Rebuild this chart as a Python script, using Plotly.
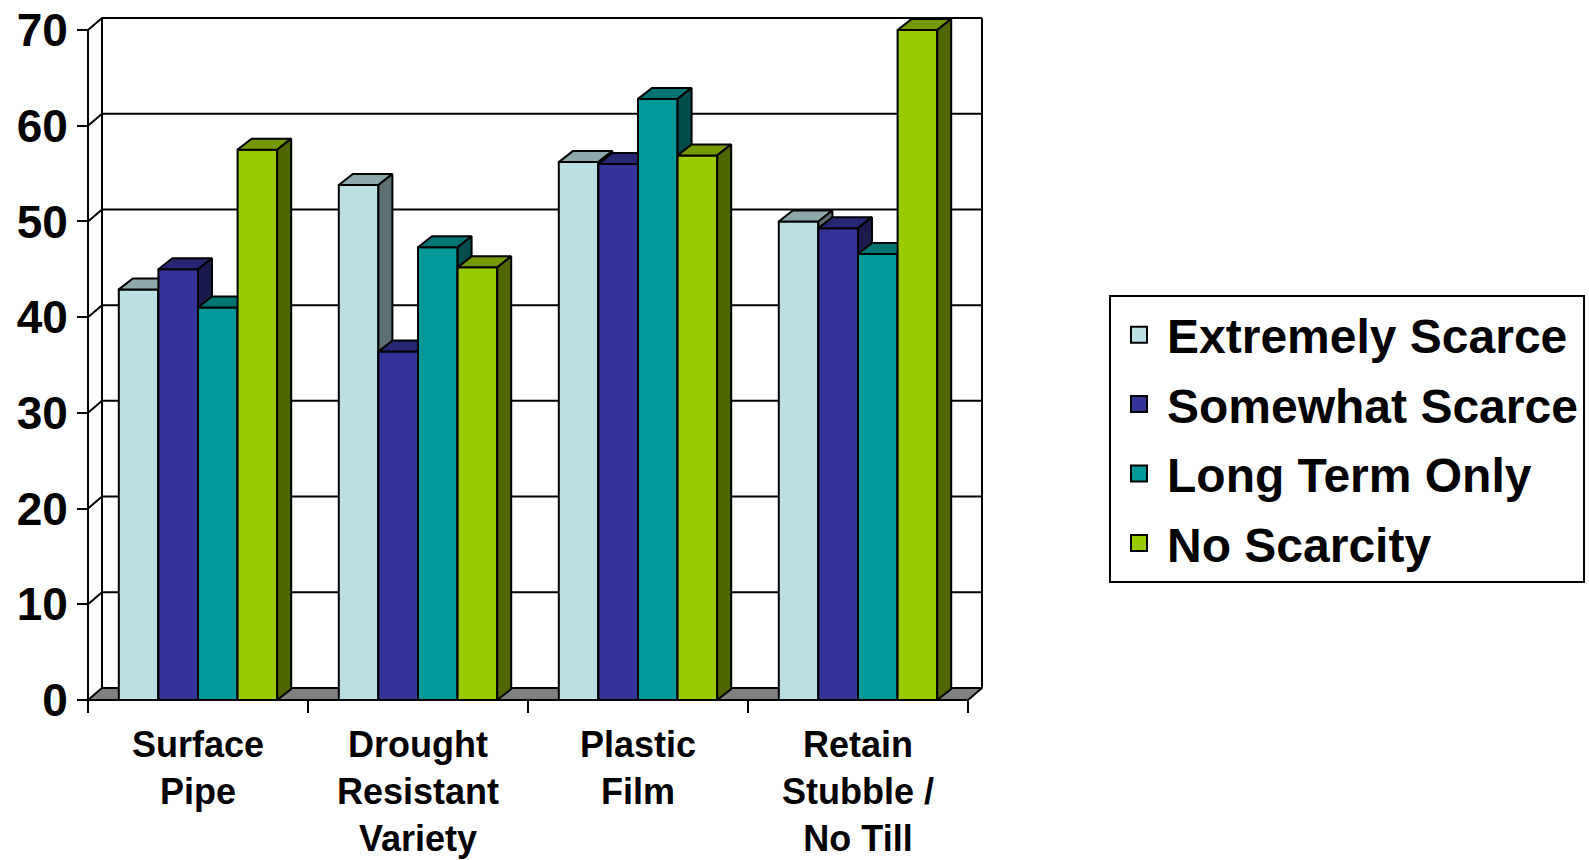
import plotly.graph_objects as go

# ---------------- data ----------------
categories = ["Surface<br>Pipe", "Drought<br>Resistant<br>Variety", "Plastic<br>Film",
              "Retain<br>Stubble /<br>No Till"]
series_names = ["Extremely Scarce", "Somewhat Scarce", "Long Term Only", "No Scarcity"]
extremely_scarce = [42.9, 53.8, 56.2, 50.0]
somewhat_scarce = [45.0, 36.4, 56.0, 49.3]
long_term_only = [41.0, 47.3, 62.8, 46.6]
no_scarcity = [57.5, 45.2, 56.9, 70.0]
y_tick_values = [0, 10, 20, 30, 40, 50, 60, 70]

series_values = [extremely_scarce, somewhat_scarce, long_term_only, no_scarcity]

# ---------------- styles ----------------
front_colors = ["#BBE0E3", "#333399", "#009999", "#99CC00"]
top_colors = ["#8CA8AA", "#262673", "#007373", "#739900"]
side_colors = ["#5E7072", "#1A1A4D", "#004D4D", "#4D6600"]
FONT = "Liberation Sans, Arial, sans-serif"

W, H = 1589, 860
# pixel geometry of the front plane
PX_LEFT, BAND_PX = 88, 220          # front left edge, px per category
PX_ZERO, PX_PER_UNIT = 700, 670 / 70  # y=0 position, px per value unit
WALL_DX_PX, WALL_DY_PX = 14, 12
BAR_DX_PX, BAR_DY_PX = 14, 11
PAD = 2

ncat = len(categories)
y_top = max(y_tick_values)
wall_dx = WALL_DX_PX / BAND_PX
wall_dy = WALL_DY_PX / PX_PER_UNIT
bar_dx = BAR_DX_PX / BAND_PX
bar_dy = BAR_DY_PX / PX_PER_UNIT

x_left = -0.5
x_right = ncat - 0.5
x_min = x_left - PAD / BAND_PX
x_max = x_right + wall_dx + PAD / BAND_PX
y_min = -PAD / PX_PER_UNIT
y_max = y_top + wall_dy + PAD / PX_PER_UNIT

plot_left = PX_LEFT - PAD
plot_w = (x_max - x_min) * BAND_PX
plot_bottom = PX_ZERO + PAD
plot_h = (y_max - y_min) * PX_PER_UNIT
margin_l = plot_left
margin_r = W - plot_left - plot_w
margin_b = H - plot_bottom
margin_t = H - margin_b - plot_h

fig = go.Figure()

# ---------------- walls & grid ----------------
gx, gy = [], []
for v in y_tick_values[1:]:
    gx += [x_left, x_left + wall_dx, x_right + wall_dx, None]
    gy += [v, v + wall_dy, v + wall_dy, None]
# back-left and back-right vertical edges
gx += [x_left + wall_dx, x_left + wall_dx, None, x_right + wall_dx, x_right + wall_dx, None]
gy += [wall_dy, y_top + wall_dy, None, wall_dy, y_top + wall_dy, None]
# front vertical axis line
gx += [x_left, x_left, None]
gy += [0, y_top, None]
fig.add_trace(go.Scatter(x=gx, y=gy, mode="lines", line=dict(color="black", width=2),
                         showlegend=False, hoverinfo="skip"))

# floor
fig.add_trace(go.Scatter(
    x=[x_left, x_right, x_right + wall_dx, x_left + wall_dx, x_left],
    y=[0, 0, wall_dy, wall_dy, 0],
    mode="lines", fill="toself", fillcolor="#808080",
    line=dict(color="black", width=2), showlegend=False, hoverinfo="skip"))

# ---------------- bars ----------------
nser = len(series_values)
bar_w = 0.18
group_w = bar_w * nser
for s, vals in enumerate(series_values):
    fx, fy, tx, ty, sx, sy = [], [], [], [], [], []
    for i, v in enumerate(vals):
        x0 = i - group_w / 2 + s * bar_w
        x1 = x0 + bar_w
        fx += [x0, x1, x1, x0, x0, None]
        fy += [0, 0, v, v, 0, None]
        tx += [x0, x1, x1 + bar_dx, x0 + bar_dx, x0, None]
        ty += [v, v, v + bar_dy, v + bar_dy, v, None]
        sx += [x1, x1 + bar_dx, x1 + bar_dx, x1, x1, None]
        sy += [0, bar_dy, v + bar_dy, v, 0, None]
    for xs, ys, col in ((fx, fy, front_colors[s]), (tx, ty, top_colors[s]), (sx, sy, side_colors[s])):
        fig.add_trace(go.Scatter(x=xs, y=ys, mode="lines", fill="toself", fillcolor=col,
                                 line=dict(color="black", width=2), showlegend=False,
                                 hoverinfo="skip"))

# legend entries
for s, name in enumerate(series_names):
    fig.add_trace(go.Scatter(x=[None], y=[None], mode="markers", name=name, legendgroup=name,
                             marker=dict(symbol="square", size=30, color=front_colors[s],
                                         line=dict(color="black", width=2))))

fig.update_layout(
    template="none",
    width=W, height=H,
    margin=dict(l=margin_l, r=margin_r, t=margin_t, b=margin_b, pad=0, autoexpand=False),
    paper_bgcolor="white", plot_bgcolor="white",
    font=dict(family=FONT, color="black", weight="bold"),
    showlegend=True,
    legend=dict(
        x=(1109 - plot_left) / plot_w, xanchor="left",
        y=(plot_bottom - 295) / plot_h, yanchor="top",
        bordercolor="black", borderwidth=2, bgcolor="white",
        font=dict(size=48, family=FONT, weight="bold", color="black"),
        itemsizing="trace", tracegroupgap=4, itemwidth=46,
    ),
    xaxis=dict(
        range=[x_min, x_max], tickmode="array", tickvals=list(range(ncat)),
        ticktext=categories, ticks="", showgrid=False, zeroline=False, showline=False,
        tickfont=dict(size=36, family=FONT, weight="bold"),
        anchor="free", position=PAD / plot_h, automargin=False, ticklabelstandoff=20,
        minor=dict(tickmode="array", tickvals=[x_left + k for k in range(ncat + 1)],
                   ticks="outside", ticklen=12, tickwidth=2, tickcolor="black", showgrid=False),
        fixedrange=True,
    ),
    yaxis=dict(
        range=[y_min, y_max], tickmode="array", tickvals=y_tick_values,
        ticks="outside", ticklen=11, tickwidth=2, tickcolor="black",
        showgrid=False, zeroline=False, showline=False,
        tickfont=dict(size=46, family=FONT, weight="bold"),
        anchor="free", position=PAD / plot_w, ticklabelstandoff=0, automargin=False,
        fixedrange=True,
    ),
)

fig.write_html("out.html")
